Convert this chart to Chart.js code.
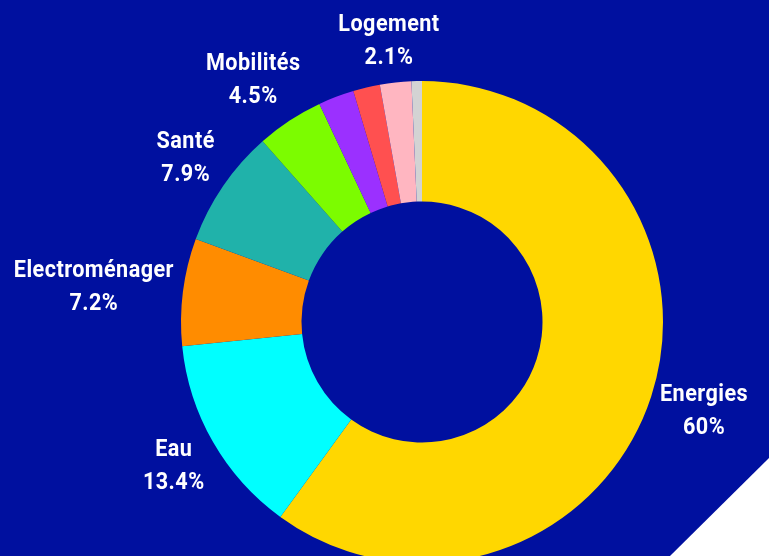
<!DOCTYPE html>
<html><head><meta charset="utf-8">
<script src="https://cdn.jsdelivr.net/npm/chart.js@4/dist/chart.umd.min.js"></script>
<style>html,body{margin:0;padding:0;background:#00109F;overflow:hidden}#wrap{width:769px;height:556px;position:relative}</style>
</head><body><div id="wrap"><canvas id="c" width="769" height="556"></canvas></div>
<script>
const categories = ['Energies', 'Eau', 'Electroménager', 'Santé', 'Mobilités', 'Alimentation', 'Numérique', 'Logement', 'Autres'];
const values = [60, 13.4, 7.2, 7.9, 4.5, 2.4, 1.8, 2.1, 0.7];
const labelledCategories = ['Energies', 'Eau', 'Electroménager', 'Santé', 'Mobilités', 'Logement'];
const sliceColors = ['#FFD700', '#00FFFF', '#FF8C00', '#20B2AA', '#7CFC00', '#9B30FF', '#FF5050', '#FFB6C1', '#D3D3D3'];

const BG = '#00109F';

const backgroundPlugin = {
  id: 'bg',
  beforeDraw(chart) {
    const ctx = chart.ctx, W = chart.width, H = chart.height;
    ctx.save();
    ctx.fillStyle = BG;
    ctx.fillRect(0, 0, W, H);
    ctx.fillStyle = '#FFFFFF';
    ctx.beginPath();
    ctx.moveTo(W, H - 98);
    ctx.lineTo(W, H);
    ctx.lineTo(W - 99, H);
    ctx.closePath();
    ctx.fill();
    ctx.restore();
  }
};

const labelPlugin = {
  id: 'sliceLabels',
  afterDatasetsDraw(chart) {
    const ctx = chart.ctx;
    const meta = chart.getDatasetMeta(0);
    ctx.save();
    ctx.font = 'bold 24px Roboto, "Liberation Sans", sans-serif';
    try { ctx.letterSpacing = '0.5px'; } catch (e) {}
    ctx.fillStyle = '#FFFFFF';
    ctx.textAlign = 'center';
    ctx.textBaseline = 'middle';
    const SX = 0.9, LH = 33, PAD = 5, OFFSET = 4;
    meta.data.forEach((arc, i) => {
      if (!labelledCategories.includes(categories[i])) return;
      const p = arc.getProps(['x', 'y', 'startAngle', 'endAngle', 'outerRadius'], true);
      const a = (p.startAngle + p.endAngle) / 2;
      const vx = Math.cos(a), vy = Math.sin(a);
      const lines = [categories[i], values[i] + '%'];
      const w = Math.max(...lines.map(t => ctx.measureText(t).width)) * SX + 2 * PAD;
      const h = LH * lines.length + 2 * PAD;
      const vs = 1 / Math.max(Math.abs(vx), Math.abs(vy));
      const cx = p.x + vx * (p.outerRadius + OFFSET) + (w / 2) * vx * vs;
      const cy = p.y + vy * (p.outerRadius + OFFSET) + (h / 2) * vy * vs;
      lines.forEach((t, k) => {
        ctx.save();
        ctx.translate(cx, cy + (k - (lines.length - 1) / 2) * LH + 1);
        ctx.scale(SX, 1);
        ctx.fillText(t, 0, 0);
        ctx.restore();
      });
    });
    ctx.restore();
  }
};

new Chart(document.getElementById('c'), {
  type: 'doughnut',
  data: {
    labels: categories,
    datasets: [{
      data: values,
      backgroundColor: sliceColors,
      borderWidth: 0,
      clip: false
    }]
  },
  options: {
    responsive: false,
    animation: false,
    rotation: 0,
    cutout: '50%',
    radius: 241,
    layout: { padding: { left: 75, right: 0, top: 88, bottom: 0 } },
    plugins: { legend: { display: false }, tooltip: { enabled: false } }
  },
  plugins: [backgroundPlugin, labelPlugin]
});
</script>
</body></html>
